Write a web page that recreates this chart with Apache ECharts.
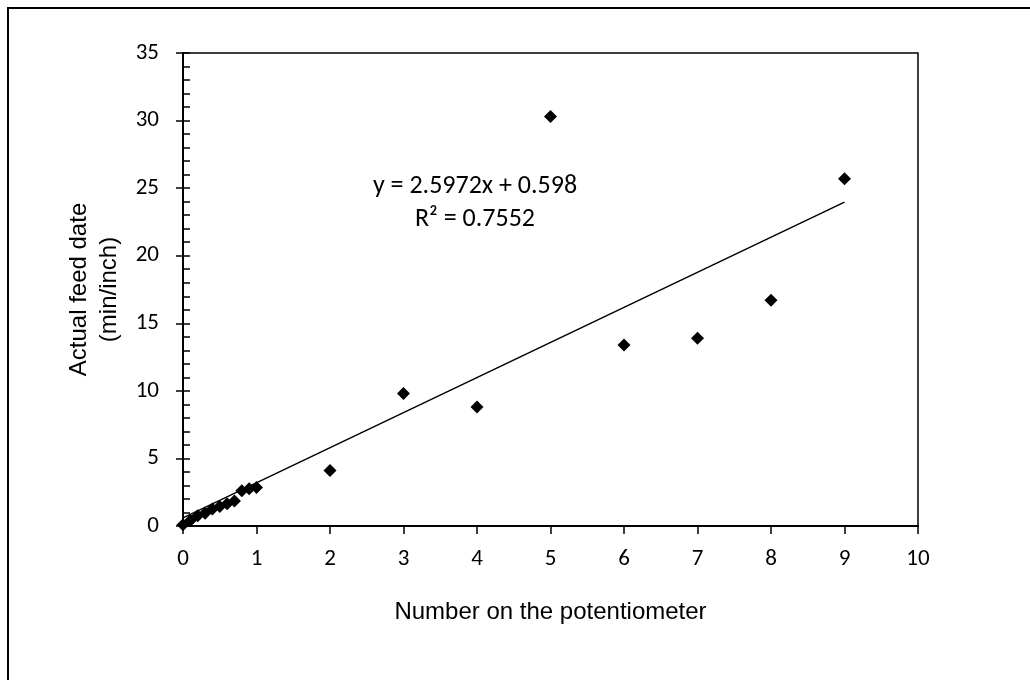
<!DOCTYPE html>
<html>
<head>
<meta charset="utf-8">
<script src="https://cdn.jsdelivr.net/npm/echarts@6/dist/echarts.min.js"></script>
<style>
  html, body { margin: 0; padding: 0; background: #fff; }
  #chart { width: 1030px; height: 680px; }
</style>
</head>
<body>
<div id="chart"></div>
<script>
// potentiometer setting vs measured feed rate
const potX = [0, 0.1, 0.2, 0.3, 0.4, 0.5, 0.6, 0.7, 0.8, 0.9, 1, 2, 3, 4, 5, 6, 7, 8, 9]
const feedY = [0.1, 0.4, 0.75, 0.95, 1.25, 1.45, 1.65, 1.85, 2.6, 2.75, 2.85, 4.1, 9.8, 8.8, 30.3, 13.4, 13.9, 16.7, 25.7]

// linear trendline ends, as drawn
const trendX = [0, 9]
const trendY = [0.598, 23.97]

const eqLines = ['y = 2.5972x + 0.598', 'R² = 0.7552']

const xTicks = { min: 0, max: 10, interval: 1 }
const yTicks = { min: 0, max: 35, interval: 5 }

const tickFont = 'Carlito, Lato, sans-serif'
const titleFont = 'Liberation Sans, Arial, sans-serif'

const chart = echarts.init(document.getElementById('chart'))

const baseY = {
  type: 'value',
  min: yTicks.min,
  max: yTicks.max,
  interval: yTicks.interval,
  position: 'left',
  splitLine: { show: false },
  axisLine: { show: true, lineStyle: { color: '#000', width: 2 } },
}

chart.setOption({
  animation: false,
  grid: { left: 183, right: 112, top: 53, bottom: 154, show: true, borderColor: '#000', borderWidth: 1.5 },
  graphic: [
    {
      type: 'rect',
      shape: { x: 8, y: 8, width: 1200, height: 900 },
      style: { fill: 'none', stroke: '#000', lineWidth: 2 },
      silent: true,
    },
    {
      type: 'text',
      x: 475, y: 186,
      style: { text: eqLines[0], fontFamily: tickFont, fontSize: 26, fill: '#000', align: 'center', verticalAlign: 'middle' },
    },
    {
      type: 'text',
      x: 475, y: 219,
      style: { text: eqLines[1], fontFamily: tickFont, fontSize: 26, fill: '#000', align: 'center', verticalAlign: 'middle' },
    },
  ],
  xAxis: {
    type: 'value',
    min: xTicks.min,
    max: xTicks.max,
    interval: xTicks.interval,
    name: 'Number on the potentiometer',
    nameLocation: 'middle',
    nameGap: 74,
    nameTextStyle: { fontFamily: titleFont, fontSize: 24, color: '#000' },
    splitLine: { show: false },
    axisLine: { show: true, onZero: false, lineStyle: { color: '#000', width: 2 } },
    axisTick: { show: true, inside: false, length: 8, lineStyle: { color: '#000', width: 1.5 } },
    axisLabel: { fontFamily: tickFont, fontSize: 23, color: '#000', margin: 22 },
  },
  yAxis: [
    Object.assign({}, baseY, {
      name: 'Actual feed date\n(min/inch)',
      nameLocation: 'middle',
      nameGap: 58,
      nameTextStyle: { fontFamily: titleFont, fontSize: 24, color: '#000', lineHeight: 30 },
      axisTick: { show: true, inside: false, length: 7, lineStyle: { color: '#000', width: 1.5 } },
      axisLabel: { fontFamily: tickFont, fontSize: 23, color: '#000', margin: 24 },
    }),
    // second copy only for the inside half of the ticks + minor ticks
    Object.assign({}, baseY, {
      axisTick: { show: true, inside: true, length: 7, lineStyle: { color: '#000', width: 1.5 } },
      minorTick: { show: true, splitNumber: 5, length: 7, lineStyle: { color: '#000', width: 1.5 } },
      axisLabel: { show: false },
    }),
  ],
  series: [
    {
      type: 'line',
      data: trendX.map((x, i) => [x, trendY[i]]),
      symbol: 'none',
      lineStyle: { color: '#000', width: 1.5 },
      z: 2,
    },
    {
      type: 'scatter',
      data: potX.map((x, i) => [x, feedY[i]]),
      symbol: 'diamond',
      symbolSize: 13,
      itemStyle: { color: '#000', opacity: 1 },
      z: 3,
    },
  ],
})
</script>
</body>
</html>
